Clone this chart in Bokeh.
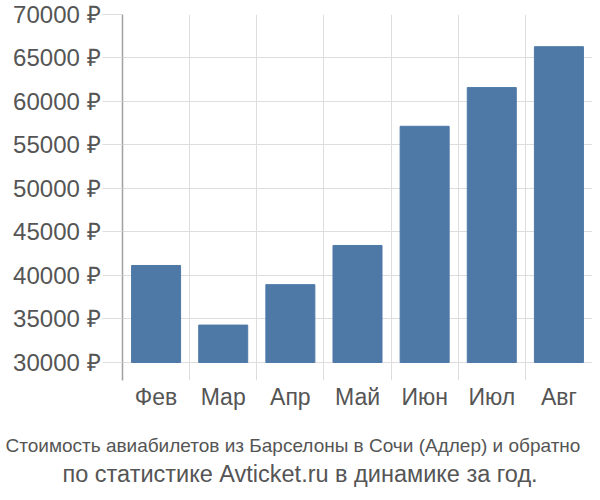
from bokeh.plotting import figure
from bokeh.models import FixedTicker, PrintfTickFormatter, Range1d, Title, ColumnDataSource
from bokeh.embed import file_html
from bokeh.resources import INLINE

months = ["Фев", "Мар", "Апр", "Май", "Июн", "Июл", "Авг"]
prices = [41150, 34300, 38950, 43450, 57150, 61600, 66300]
y_ticks = [30000, 35000, 40000, 45000, 50000, 55000, 60000, 65000, 70000]
title_line1 = "Стоимость авиабилетов из Барселоны в Сочи (Адлер) и обратно"
title_line2 = "по статистике Avticket.ru в динамике за год."

xs = [i + 0.5 for i in range(len(months))]
src = ColumnDataSource(dict(x=xs, top=prices, bottom=[30000] * len(prices)))

FONT = "Liberation Sans"
TXT = "#555555"
GRID = "#dddddd"

p = figure(frame_width=470, frame_height=366, output_backend="svg", toolbar_location=None,
           x_range=Range1d(0, len(months)), y_range=Range1d(27930, 70000),
           min_border_left=122, min_border_right=0, min_border_top=14, min_border_bottom=110)
p.outline_line_color = None
p.background_fill_color = "white"
p.border_fill_color = "white"

p.vbar(x="x", top="top", bottom="bottom", width=0.73, source=src,
       fill_color="#4e79a7", line_color="#4e79a7")

# y axis
p.yaxis.ticker = FixedTicker(ticks=y_ticks)
p.yaxis.formatter = PrintfTickFormatter(format="%d ₽")
p.yaxis.axis_line_color = "#a0a0a0"
p.yaxis.axis_line_width = 1.5
p.yaxis.major_tick_out = 20
p.yaxis.major_tick_in = 0
p.yaxis.major_tick_line_color = GRID
p.yaxis.minor_tick_line_color = None
p.yaxis.major_label_standoff = 2
p.yaxis.major_label_text_font = FONT
p.yaxis.major_label_text_font_size = "24px"
p.yaxis.major_label_text_color = TXT
p.ygrid.ticker = FixedTicker(ticks=y_ticks)
p.ygrid.grid_line_color = GRID

# x axis
p.xaxis.ticker = FixedTicker(ticks=xs)
p.xaxis.major_label_overrides = {x: m for x, m in zip(xs, months)}
p.xaxis.axis_line_color = None
p.xaxis.major_tick_line_color = None
p.xaxis.minor_tick_line_color = None
p.xaxis.major_tick_out = 0
p.xaxis.major_label_standoff = 3
p.xaxis.major_label_text_font = FONT
p.xaxis.major_label_text_font_size = "23px"
p.xaxis.major_label_text_color = TXT
p.xgrid.ticker = FixedTicker(ticks=list(range(len(months) + 1)))
p.xgrid.grid_line_color = GRID

t1 = Title(text=title_line1, align="left", vertical_align="top", offset=-117, standoff=44,
           text_font=FONT, text_font_size="19px",
           text_color=TXT, text_font_style="normal")
t2 = Title(text=title_line2, align="left", vertical_align="top", offset=-60, standoff=-38,
           text_font=FONT, text_font_size="23.5px",
           text_color=TXT, text_font_style="normal")
p.add_layout(t1, "below")
p.add_layout(t2, "below")

open("out.html", "w").write(file_html(p, INLINE))
